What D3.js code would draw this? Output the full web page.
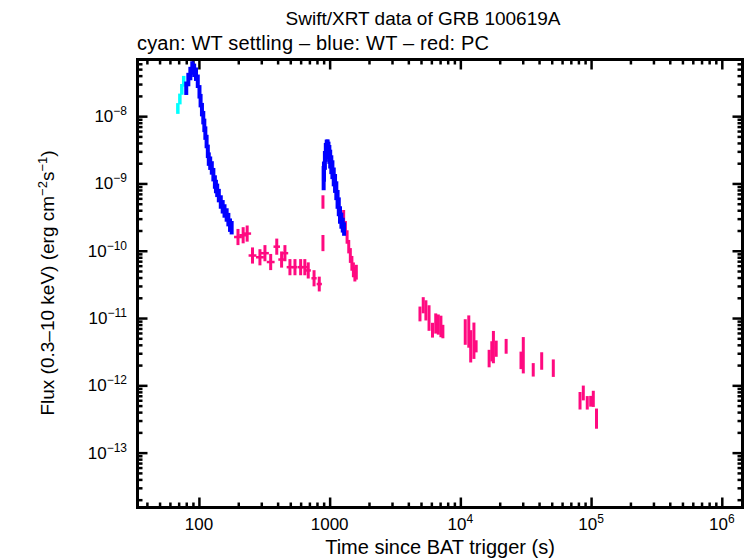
<!DOCTYPE html>
<html>
<head>
<meta charset="utf-8">
<script src="https://cdn.jsdelivr.net/npm/d3@7"></script>
<style>
  body { margin: 0; background: #fff; }
  text { font-family: "Liberation Sans", Arial, Helvetica, sans-serif; fill: #000; }
</style>
</head>
<body>
<svg id="chart" width="751" height="558"></svg>
<script>
// rows: [time (s), flux (erg cm^-2 s^-1), flux error (dex), time error (dex)]
const wtSettling = [
  [69, 1.3e-8, 0.08, 0.008], [71.5, 1.8e-8, 0.08, 0.008],
  [74, 2.5e-8, 0.08, 0.008], [76.5, 3.3e-8, 0.08, 0.008]
];

const wtEarly = [
  [80, 2.6e-8, 0.1, 0.01], [83, 3.5e-8, 0.1, 0.01], [86, 4.3e-8, 0.1, 0.01],
  [89, 5.2e-8, 0.1, 0.01], [92, 4.8e-8, 0.1, 0.01], [95, 4.2e-8, 0.1, 0.01],
  [98, 3.3e-8, 0.1, 0.01], [101, 2.3e-8, 0.1, 0.01], [103, 1.7e-8, 0.1, 0.01],
  [105.5, 1.25e-8, 0.1, 0.01], [108, 9.5e-9, 0.1, 0.01], [110, 7.3e-9, 0.1, 0.01],
  [112, 5.6e-9, 0.1, 0.01], [114.5, 4.2e-9, 0.1, 0.01], [117, 3.0e-9, 0.1, 0.01],
  [119, 2.3e-9, 0.1, 0.01], [122, 2.0e-9, 0.1, 0.01], [125.5, 1.7e-9, 0.1, 0.01],
  [129, 1.35e-9, 0.1, 0.01], [132.5, 1.05e-9, 0.1, 0.01], [135, 9.0e-10, 0.1, 0.01],
  [138, 7.9e-10, 0.1, 0.01], [142, 6.6e-10, 0.1, 0.01], [147, 5.3e-10, 0.1, 0.01],
  [152, 4.5e-10, 0.1, 0.01], [157, 3.9e-10, 0.1, 0.01], [163, 3.4e-10, 0.1, 0.01],
  [168, 2.9e-10, 0.1, 0.01], [173, 2.4e-10, 0.1, 0.01], [178, 2.2e-10, 0.1, 0.01]
];

const wtFlare = [
  [900, 1.2e-9, 0.18, 0.004], [905, 1.5e-9, 0.15, 0.004], [920, 2.2e-9, 0.14, 0.004],
  [935, 2.9e-9, 0.14, 0.004], [950, 3.4e-9, 0.12, 0.004], [965, 3.5e-9, 0.11, 0.004],
  [980, 3.1e-9, 0.13, 0.004], [995, 2.7e-9, 0.14, 0.004], [1010, 2.3e-9, 0.14, 0.004],
  [1030, 1.9e-9, 0.14, 0.004], [1050, 1.6e-9, 0.14, 0.004], [1075, 1.25e-9, 0.14, 0.004],
  [1100, 1.0e-9, 0.14, 0.004], [1125, 7.8e-10, 0.14, 0.004], [1150, 5.8e-10, 0.14, 0.004],
  [1175, 4.5e-10, 0.14, 0.004], [1200, 3.4e-10, 0.13, 0.004], [1230, 2.8e-10, 0.12, 0.004],
  [1260, 2.4e-10, 0.11, 0.004], [1290, 2.1e-10, 0.1, 0.004]
];

const pcEarly = [
  [199, 1.6e-10, 0.12, 0.03], [218, 1.7e-10, 0.12, 0.03], [234, 1.8e-10, 0.12, 0.03],
  [257, 8.5e-11, 0.12, 0.03], [293, 8.0e-11, 0.12, 0.03], [320, 9.2e-11, 0.12, 0.03],
  [354, 6.8e-11, 0.12, 0.03], [394, 1.15e-10, 0.12, 0.025], [429, 7.4e-11, 0.12, 0.025],
  [455, 9.2e-11, 0.12, 0.025], [497, 5.7e-11, 0.12, 0.025], [543, 5.7e-11, 0.12, 0.02],
  [600, 5.7e-11, 0.12, 0.02], [646, 5.7e-11, 0.12, 0.02], [686, 5.1e-11, 0.12, 0.02],
  [760, 3.9e-11, 0.12, 0.02], [833, 3.2e-11, 0.11, 0.02]
];

const pcFlare = [
  [889, 5.3e-10, 0.1, 0.004], [889, 1.3e-10, 0.12, 0.004],
  [1280, 3.2e-10, 0.1, 0.004], [1320, 2.2e-10, 0.1, 0.004], [1360, 1.6e-10, 0.1, 0.004],
  [1400, 1.15e-10, 0.1, 0.004], [1440, 8.5e-11, 0.11, 0.004], [1480, 6.5e-11, 0.11, 0.004],
  [1520, 5.2e-11, 0.11, 0.004], [1560, 4.5e-11, 0.11, 0.006], [1600, 4.8e-11, 0.11, 0.006]
];

const pcLate = [
  [4910, 1.15e-11, 0.11, 0.006], [5200, 1.55e-11, 0.12, 0.006], [5450, 1.3e-11, 0.15, 0.006],
  [5760, 1.0e-11, 0.19, 0.006], [6120, 6.6e-12, 0.11, 0.006], [6480, 8.3e-12, 0.15, 0.006],
  [6780, 8.0e-12, 0.15, 0.006], [7100, 7.5e-12, 0.16, 0.006], [7350, 6.3e-12, 0.1, 0.006],
  [10900, 6.2e-12, 0.19, 0.006], [11600, 6.3e-12, 0.24, 0.006], [12000, 3.8e-12, 0.24, 0.006],
  [12700, 4.6e-12, 0.27, 0.006], [13200, 3.8e-12, 0.09, 0.006], [16600, 2.5e-12, 0.13, 0.006],
  [17400, 3.2e-12, 0.15, 0.006], [17900, 3.7e-12, 0.24, 0.006], [18800, 3.5e-12, 0.12, 0.006],
  [22400, 3.8e-12, 0.11, 0.004], [29100, 2.35e-12, 0.13, 0.004], [30300, 2.8e-12, 0.27, 0.004],
  [36100, 1.7e-12, 0.1, 0.004], [41900, 2.3e-12, 0.13, 0.004], [51400, 1.8e-12, 0.13, 0.004],
  [82300, 5.9e-13, 0.13, 0.005], [87200, 7.7e-13, 0.11, 0.005], [93500, 5.5e-13, 0.1, 0.005],
  [99300, 5.8e-13, 0.08, 0.005], [104000, 6.3e-13, 0.12, 0.005], [110000, 3.2e-13, 0.15, 0.005]
];

const xDecades = [100, 1000, 1e4, 1e5, 1e6];
const xTickLabels = [["100", ""], ["1000", ""], ["10", "4"], ["10", "5"], ["10", "6"]];
const yDecades = [1e-8, 1e-9, 1e-10, 1e-11, 1e-12, 1e-13];
const yTickLabels = ["\u22128", "\u22129", "\u221210", "\u221211", "\u221212", "\u221213"];

const svg = d3.select('#chart');
const margin = {top: 59.5, right: 8.5, bottom: 50.5, left: 137.5};
const W = 751, H = 558;

// frame limits
const x = d3.scaleLog().domain([33.9, 1.44e6]).range([margin.left, W - margin.right]);
const y = d3.scaleLog().domain([6.95e-8, 1.53e-14]).range([margin.top, H - margin.bottom]);

svg.append('rect').attr('width', W).attr('height', H).attr('fill', '#fff');

// minor ticks: 2..9 in each decade
function minors(lo, hi) {
  const out = [];
  for (let e = Math.floor(Math.log10(lo)); e <= Math.ceil(Math.log10(hi)); e++) {
    for (let m = 2; m <= 9; m++) {
      const v = m * Math.pow(10, e);
      if (v > lo && v < hi) out.push(v);
    }
  }
  return out;
}
const xMinor = minors(33.9, 1.44e6);
const yMinor = minors(1.53e-14, 6.95e-8);

const bottomY = H - margin.bottom, rightX = W - margin.right;
function tickAxis(axisFn, scale, vals, size, transform) {
  const g = svg.append('g')
    .attr('transform', transform)
    .call(axisFn(scale).tickValues(vals).tickSize(size).tickFormat(''));
  g.select('.domain').remove();
  g.selectAll('line').attr('stroke', '#000').attr('stroke-width', 2.5);
}
tickAxis(d3.axisBottom, x, xDecades, -10, `translate(0,${bottomY})`);
tickAxis(d3.axisBottom, x, xMinor, -5, `translate(0,${bottomY})`);
tickAxis(d3.axisTop, x, xDecades, -10, `translate(0,${margin.top})`);
tickAxis(d3.axisTop, x, xMinor, -5, `translate(0,${margin.top})`);
tickAxis(d3.axisLeft, y, yDecades, -10, `translate(${margin.left},0)`);
tickAxis(d3.axisLeft, y, yMinor, -5, `translate(${margin.left},0)`);
tickAxis(d3.axisRight, y, yDecades, -10, `translate(${rightX},0)`);
tickAxis(d3.axisRight, y, yMinor, -5, `translate(${rightX},0)`);

// error bars
function drawSeries(rows, color, vw) {
  const g = svg.append('g').attr('stroke', color);
  g.selectAll('line.v').data(rows).join('line')
    .attr('class', 'v')
    .attr('x1', d => x(d[0])).attr('x2', d => x(d[0]))
    .attr('y1', d => y(d[1] * Math.pow(10, d[2])))
    .attr('y2', d => y(d[1] / Math.pow(10, d[2])))
    .attr('stroke-width', vw);
  g.selectAll('line.h').data(rows).join('line')
    .attr('class', 'h')
    .attr('x1', d => x(d[0] / Math.pow(10, d[3])))
    .attr('x2', d => x(d[0] * Math.pow(10, d[3])))
    .attr('y1', d => y(d[1])).attr('y2', d => y(d[1]))
    .attr('stroke-width', 2.5);
}
drawSeries(pcEarly, '#ff0a80', 3);
drawSeries(pcFlare, '#ff0a80', 3);
drawSeries(pcLate, '#ff0a80', 3);
drawSeries(wtSettling, '#00ffff', 3.5);
drawSeries(wtEarly, '#0000ff', 4);
drawSeries(wtFlare, '#0000ff', 4);

// frame
svg.append('rect')
  .attr('x', margin.left).attr('y', margin.top)
  .attr('width', rightX - margin.left).attr('height', bottomY - margin.top)
  .attr('fill', 'none').attr('stroke', '#000').attr('stroke-width', 3);

// tick labels
const xl = svg.append('g').attr('font-size', 17).attr('text-anchor', 'middle');
xDecades.forEach((v, i) => {
  const t = xl.append('text').attr('x', x(v)).attr('y', 530);
  t.append('tspan').text(xTickLabels[i][0]);
  if (xTickLabels[i][1]) t.append('tspan').attr('font-size', 12).attr('dy', -7).text(xTickLabels[i][1]);
});
const yl = svg.append('g').attr('font-size', 17).attr('text-anchor', 'end');
yDecades.forEach((v, i) => {
  const t = yl.append('text').attr('x', 127).attr('y', y(v) + 6);
  t.append('tspan').text('10');
  t.append('tspan').attr('font-size', 12).attr('dy', -7).text(yTickLabels[i]);
});

// titles
svg.append('text').attr('x', 423).attr('y', 25).attr('text-anchor', 'middle')
  .attr('font-size', 19).text('Swift/XRT data of GRB 100619A');
svg.append('text').attr('x', 137).attr('y', 50).attr('font-size', 20)
  .attr('textLength', 352)
  .text('cyan: WT settling \u2013 blue: WT \u2013 red: PC');
svg.append('text').attr('x', 440).attr('y', 554).attr('text-anchor', 'middle')
  .attr('font-size', 20).text('Time since BAT trigger (s)');

const ylab = svg.append('text').attr('transform', 'translate(54,283) rotate(-90)')
  .attr('text-anchor', 'middle').attr('font-size', 19);
ylab.append('tspan').text('Flux (0.3\u201310 keV) (erg cm');
ylab.append('tspan').attr('font-size', 13).attr('dy', -7).text('\u22122');
ylab.append('tspan').attr('dy', 7).text('s');
ylab.append('tspan').attr('font-size', 13).attr('dy', -7).text('\u22121');
ylab.append('tspan').attr('dy', 7).text(')');
</script>
</body>
</html>
